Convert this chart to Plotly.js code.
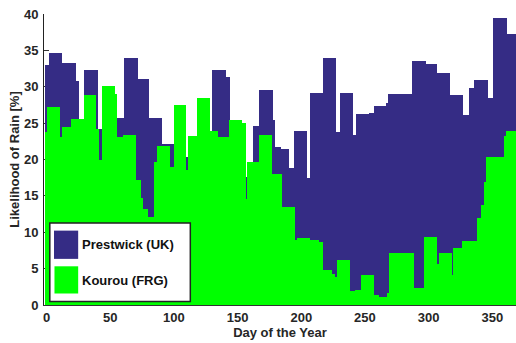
<!DOCTYPE html>
<html>
<head>
<meta charset="utf-8">
<script src="https://cdn.plot.ly/plotly-3.0.1.min.js"></script>
<style>html,body{margin:0;padding:0;background:#fff;}#chart{width:516px;height:343px;}</style>
</head>
<body>
<div id="chart"></div>
<script>
// ---- data ----
var xTickVals = [0, 50, 100, 150, 200, 250, 300, 350];
var yTickVals = [0, 5, 10, 15, 20, 25, 30, 35, 40];
var lastDay = 369;

var prestwickStart = [-1.6, 1.7, 12.4, 23.4, 25.5, 29.6, 40.3, 43.5, 55.2, 60.7, 71.7, 80.8, 90.7, 99.9, 109.8, 110.8, 118.1, 128.1, 129.6, 140.6, 143.7, 156.3, 157.1, 162.0, 166.7, 177.7, 179.0, 184.2, 190.7, 193.9, 204.6, 206.7, 217.1, 227.6, 230.2, 240.6, 242.7, 252.9, 256.8, 266.7, 268.0, 287.1, 298.1, 306.7, 316.9, 326.8, 332.0, 335.9, 346.9, 350.8, 361.4];
var prestwickValue = [33.0, 34.7, 33.2, 30.8, 25.0, 32.3, 24.2, 24.0, 25.7, 33.9, 31.0, 25.7, 22.2, 20.0, 20.4, 20.0, 25.0, 23.0, 32.3, 31.3, 22.0, 17.6, 17.0, 24.6, 29.6, 25.4, 21.7, 21.4, 18.9, 23.9, 17.4, 29.2, 34.0, 23.8, 29.2, 23.4, 26.2, 26.4, 27.4, 27.7, 29.0, 33.6, 33.1, 31.9, 28.8, 26.1, 29.8, 30.9, 28.4, 39.4, 37.2];

var kourouStart = [-1.6, 0.4, 10.3, 12.4, 19.4, 29.1, 39.0, 41.1, 43.5, 53.4, 55.2, 59.9, 69.9, 73.8, 75.6, 79.5, 84.2, 86.8, 97.3, 99.9, 109.8, 110.8, 118.1, 128.1, 134.6, 143.0, 153.4, 156.3, 157.1, 167.2, 177.2, 185.0, 195.4, 196.7, 207.2, 214.2, 217.1, 224.2, 226.5, 228.1, 238.5, 242.4, 247.1, 257.3, 261.2, 267.3, 269.0, 279.3, 288.7, 296.7, 306.7, 308.0, 318.4, 319.5, 326.0, 338.0, 341.1, 343.7, 345.1, 358.9, 360.7];
var kourouValue = [23.8, 27.2, 23.1, 24.4, 25.6, 28.9, 24.2, 19.9, 30.1, 29.0, 23.1, 23.4, 17.2, 14.7, 13.2, 12.1, 19.7, 21.9, 19.0, 27.5, 18.5, 23.2, 28.5, 23.9, 23.1, 25.4, 25.0, 14.6, 19.7, 23.4, 18.0, 13.5, 8.9, 9.2, 8.9, 8.6, 4.8, 4.3, 3.9, 6.2, 1.9, 2.1, 4.1, 1.4, 1.1, 1.7, 7.2, 7.1, 2.4, 9.3, 5.6, 7.2, 4.1, 7.8, 8.8, 11.9, 13.7, 16.9, 20.4, 23.2, 23.9];

var seriesNames = ['Prestwick (UK)', 'Kourou (FRG)'];
var seriesColors = ['#352C85', '#00FF00'];

// ---- build bars ----
function stepBars(starts, vals, name, color) {
  var xs = [], ws = [];
  for (var i = 0; i < starts.length; i++) {
    var end = (i + 1 < starts.length) ? starts[i + 1] : lastDay;
    xs.push((starts[i] + end) / 2);
    ws.push(end - starts[i]);
  }
  return {type: 'bar', x: xs, y: vals, width: ws, name: name,
          marker: {color: color, line: {width: 0}}, showlegend: false,
          hoverinfo: 'x+y'};
}

var traces = [
  stepBars(prestwickStart, prestwickValue, seriesNames[0], seriesColors[0]),
  stepBars(kourouStart, kourouValue, seriesNames[1], seriesColors[1])
];

var fontFam = '"Liberation Sans", Arial, Helvetica, sans-serif';
var tickFont = {family: fontFam, size: 13, color: '#262626', weight: 'bold'};

var layout = {
  width: 516, height: 343,
  margin: {l: 44, r: 0, t: 14, b: 38, pad: 0},
  paper_bgcolor: '#fff', plot_bgcolor: '#fff',
  barmode: 'overlay', bargap: 0,
  showlegend: false,
  xaxis: {
    range: [-2, 368.6], tickvals: xTickVals, ticktext: xTickVals.map(String),
    ticks: '', showgrid: false, zeroline: false,
    showline: true, linecolor: '#333', linewidth: 1,
    tickfont: tickFont,
    title: {text: 'Day of the Year', font: {family: fontFam, size: 13, color: '#262626', weight: 'bold'}, standoff: 4}
  },
  xaxis2: {
    overlaying: 'x', side: 'top', anchor: 'y', range: [-2, 368.6], tickvals: xTickVals,
    showticklabels: false, ticks: 'inside', ticklen: 5, tickcolor: '#333', tickwidth: 1,
    showline: true, linecolor: '#555', linewidth: 1, showgrid: false, zeroline: false,
    layer: 'below traces'
  },
  yaxis: {
    range: [0, 40], tickvals: yTickVals, ticktext: yTickVals.map(String),
    ticks: 'inside', ticklen: 5, tickcolor: '#333', tickwidth: 1,
    showline: true, linecolor: '#222', linewidth: 1, showgrid: false, zeroline: false,
    tickfont: tickFont, ticklabelstandoff: 2,
    layer: 'below traces',
    title: {text: 'Likelihood of Rain [%]', font: {family: fontFam, size: 13, color: '#262626', weight: 'bold'}, standoff: 1}
  },
  shapes: [
    {type: 'rect', xref: 'paper', yref: 'paper', x0: 0.0123, x1: 0.310, y0: 0.012, y1: 0.282,
     fillcolor: '#fff', line: {color: '#222', width: 1.5}, layer: 'above'},
    {type: 'rect', xref: 'paper', yref: 'paper', x0: 0.0212, x1: 0.0724, y0: 0.1585, y1: 0.2556,
     fillcolor: seriesColors[0], line: {width: 0}, layer: 'above'},
    {type: 'rect', xref: 'paper', yref: 'paper', x0: 0.0222, x1: 0.0724, y0: 0.0395, y1: 0.133,
     fillcolor: seriesColors[1], line: {width: 0}, layer: 'above'}
  ],
  annotations: [
    {xref: 'paper', yref: 'paper', x: 0.0772, y: 0.2075, xanchor: 'left', yanchor: 'middle', showarrow: false,
     text: seriesNames[0], font: {family: fontFam, size: 13, color: '#111', weight: 'bold'}},
    {xref: 'paper', yref: 'paper', x: 0.0772, y: 0.084, xanchor: 'left', yanchor: 'middle', showarrow: false,
     text: seriesNames[1], font: {family: fontFam, size: 13, color: '#111', weight: 'bold'}}
  ]
};

Plotly.newPlot('chart', traces, layout, {staticPlot: true, displayModeBar: false});
</script>
</body>
</html>
